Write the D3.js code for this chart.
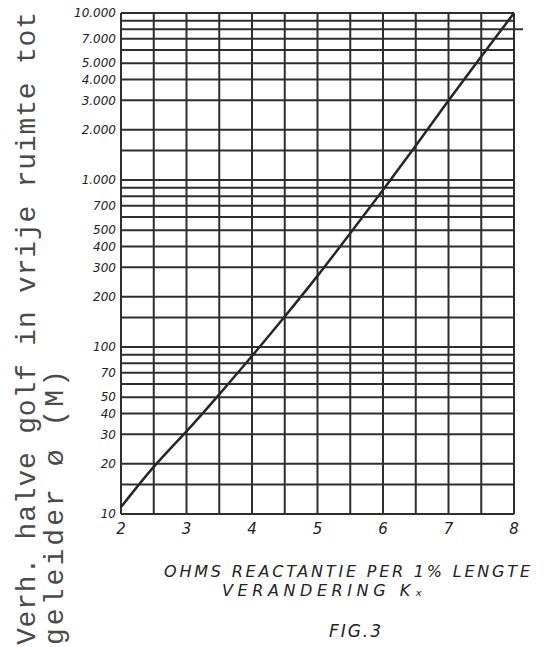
<!DOCTYPE html>
<html>
<head>
<meta charset="utf-8">
<script src="https://cdn.jsdelivr.net/npm/d3@7"></script>
<style>
  html, body { margin: 0; padding: 0; background: #fff; }
  svg { display: block; }
</style>
</head>
<body>
<div id="chart"></div>
<script>
// Curve (x = ohms reactantie, y = verh. halve golf)
const curveX = [2, 2.5, 3, 3.5, 4, 4.5, 5, 5.5, 6, 6.5, 7, 7.5, 8];
const curveY = [11, 19.5, 31, 52, 88, 152, 265, 480, 870, 1600, 3000, 5500, 10000];

// Grid and tick labels
const xGrid = [2, 2.5, 3, 3.5, 4, 4.5, 5, 5.5, 6, 6.5, 7, 7.5, 8];
const xLabels = [2, 3, 4, 5, 6, 7, 8];
const decades = [10, 100, 1000];
const steps = [1, 1.5, 2, 3, 4, 5, 6, 7, 8, 9];
const yLabelValues = [10000, 7000, 5000, 4000, 3000, 2000, 1000, 700, 500, 400, 300, 200, 100, 70, 50, 40, 30, 20, 10];
const yLabelText = ['10.000', '7.000', '5.000', '4.000', '3.000', '2.000', '1.000', '700', '500', '400', '300', '200', '100', '70', '50', '40', '30', '20', '10'];

const W = 550, H = 647;
const margin = {top: 13, right: 36, bottom: 133, left: 121};
const width = W - margin.left - margin.right;
const height = H - margin.top - margin.bottom;

const svg = d3.select('#chart')
  .append('svg')
  .attr('width', W)
  .attr('height', H);

const g = svg.append('g')
  .attr('transform', `translate(${margin.left},${margin.top})`);

const x = d3.scaleLinear().domain([2, 8]).range([0, width]);
const y = d3.scaleLog().domain([10, 10000]).range([height, 0]);

const ink = '#2e2e2e';

// horizontal grid lines
const yGrid = [];
decades.forEach(d => steps.forEach(s => yGrid.push(d * s)));
yGrid.push(10000);

g.append('g')
  .selectAll('line')
  .data(yGrid)
  .enter()
  .append('line')
  .attr('x1', 0)
  .attr('x2', d => d === 8000 ? width + 9 : width)
  .attr('y1', d => y(d))
  .attr('y2', d => y(d))
  .attr('stroke', ink)
  .attr('stroke-width', 2);

// vertical grid lines
g.append('g')
  .selectAll('line')
  .data(xGrid)
  .enter()
  .append('line')
  .attr('x1', d => x(d))
  .attr('x2', d => x(d))
  .attr('y1', 0)
  .attr('y2', height)
  .attr('stroke', ink)
  .attr('stroke-width', 2);

// the curve
const line = d3.line()
  .x((d, i) => x(curveX[i]))
  .y(d => y(d))
  .curve(d3.curveBasis);

g.append('path')
  .datum(curveY)
  .attr('d', line)
  .attr('fill', 'none')
  .attr('stroke', '#262626')
  .attr('stroke-width', 2.5);

// y tick labels (hand lettered)
g.append('g')
  .selectAll('text')
  .data(yLabelValues)
  .enter()
  .append('text')
  .attr('x', -5)
  .attr('y', d => y(d))
  .attr('dy', '0.35em')
  .attr('text-anchor', 'end')
  .style('font-family', '"DejaVu Sans", sans-serif')
  .style('font-style', 'italic')
  .style('font-size', '12px')
  .style('fill', '#222')
  .text((d, i) => yLabelText[i]);

// x tick labels
g.append('g')
  .selectAll('text')
  .data(xLabels)
  .enter()
  .append('text')
  .attr('x', d => x(d))
  .attr('y', height + 20)
  .attr('text-anchor', 'middle')
  .style('font-family', '"DejaVu Sans", sans-serif')
  .style('font-style', 'italic')
  .style('font-size', '15px')
  .style('fill', '#222')
  .text(d => d);

// x axis title
const titleStyle = sel => sel
  .attr('text-anchor', 'middle')
  .attr('lengthAdjust', 'spacing')
  .style('font-family', '"DejaVu Sans", sans-serif')
  .style('font-style', 'italic')
  .style('font-size', '16px')
  .style('fill', '#222');

svg.append('text')
  .attr('x', 347)
  .attr('y', 577)
  .attr('textLength', 366)
  .call(titleStyle)
  .text('OHMS  REACTANTIE  PER 1%  LENGTE');

svg.append('text')
  .attr('x', 322)
  .attr('y', 596)
  .attr('textLength', 200)
  .call(titleStyle)
  .text('VERANDERING  K\u2093');

svg.append('text')
  .attr('x', 355)
  .attr('y', 637)
  .attr('textLength', 52)
  .call(titleStyle)
  .style('font-size', '17px')
  .text('FIG.3');

// y axis title, typewritten, two lines
svg.append('text')
  .attr('transform', 'translate(35,645) rotate(-90)')
  .attr('textLength', 633)
  .style('font-family', '"Liberation Mono", monospace')
  .style('font-size', '28px')
  .style('fill', '#4a4a4a')
  .text('Verh. halve golf in vrije ruimte tot');

svg.append('text')
  .attr('transform', 'translate(63,645) rotate(-90)')
  .attr('textLength', 275)
  .style('font-family', '"Liberation Mono", monospace')
  .style('font-size', '28px')
  .style('fill', '#4a4a4a')
  .text('geleider  \u00f8 (M)');
</script>
</body>
</html>
